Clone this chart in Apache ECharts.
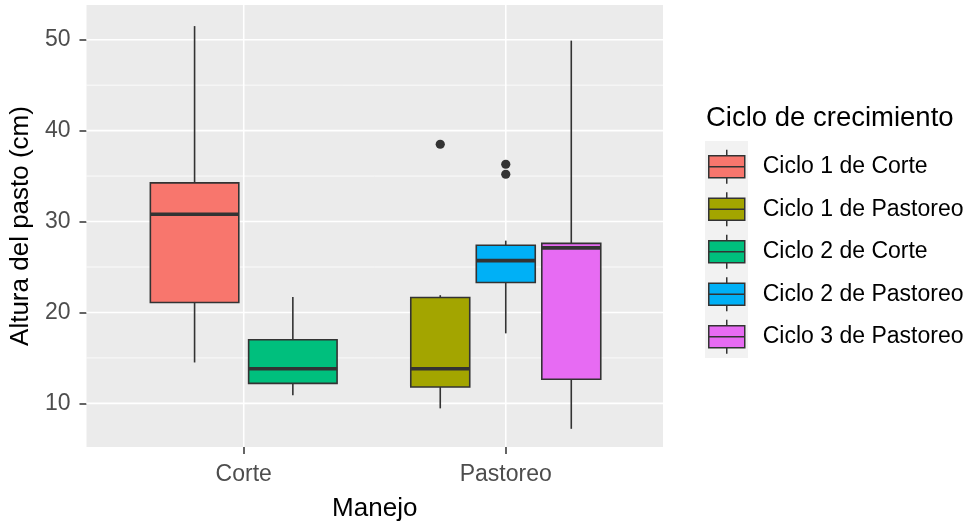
<!DOCTYPE html>
<html><head><meta charset="utf-8">
<script src="https://cdn.jsdelivr.net/npm/echarts@6/dist/echarts.min.js"></script>
<style>html,body{margin:0;padding:0;background:#fff}#c{width:967px;height:527px}</style>
</head><body><div id="c"></div>
<script>
// ---- data ----
const categories = ['Corte', 'Pastoreo'];
const seriesNames = ['Ciclo 1 de Corte', 'Ciclo 1 de Pastoreo', 'Ciclo 2 de Corte', 'Ciclo 2 de Pastoreo', 'Ciclo 3 de Pastoreo'];
const seriesCategory = [0, 1, 0, 1, 1];
// [lower whisker, Q1, median, Q3, upper whisker]
const boxStats = [
  [14.5, 21.1, 30.8, 34.25, 51.5],
  [9.45, 11.8, 13.8, 21.65, 21.9],
  [10.9, 12.2, 13.8, 17.0, 21.7],
  [17.7, 23.3, 25.7, 27.4, 27.9],
  [7.2, 12.65, 27.1, 27.6, 49.9]
];
const outliers = [[], [38.5], [], [36.3, 35.2], []];
const yTicks = [10, 20, 30, 40, 50];
const yMinor = [15, 25, 35, 45];
const xTicks = [1, 2];
const yRange = [5.2, 53.82];
const xRange = [0.4, 2.6];

// ---- styles ----
const colors = ['#F8766D', '#A3A500', '#00BF7D', '#00B0F6', '#E76BF3'];
const FONT = '"Liberation Sans", Arial, sans-serif';
const INK = '#333333';
const LW = 1.6;

// dodge layout (like ggplot dodge2, width 0.75, padding 0.1)
function slot(si) {
  const cat = seriesCategory[si];
  const members = [];
  seriesCategory.forEach((c, i) => { if (c === cat) members.push(i); });
  const n = members.length, k = members.indexOf(si);
  const w = 0.75 / n;
  return { offset: (k - (n - 1) / 2) * w, half: w * 0.9 / 2 };
}

function line(p1, p2, w, color) {
  return { type: 'line', shape: { x1: p1[0], y1: p1[1], x2: p2[0], y2: p2[1] },
           style: { stroke: color || INK, lineWidth: w } };
}

const series = [];
// grid lines
series.push({
  type: 'custom', name: 'gridMinor', z: 1, silent: true,
  data: yMinor.map(v => [v]), encode: { y: 0 },
  renderItem: (p, api) => line(api.coord([xRange[0], api.value(0)]), api.coord([xRange[1], api.value(0)]), 0.8, '#FFFFFF')
});
series.push({
  type: 'custom', name: 'gridMajorY', z: 1, silent: true,
  data: yTicks.map(v => [v]), encode: { y: 0 },
  renderItem: (p, api) => line(api.coord([xRange[0], api.value(0)]), api.coord([xRange[1], api.value(0)]), 1.6, '#FFFFFF')
});
series.push({
  type: 'custom', name: 'gridMajorX', z: 1, silent: true,
  data: xTicks.map(v => [v]), encode: { x: 0 },
  renderItem: (p, api) => line(api.coord([api.value(0), yRange[0]]), api.coord([api.value(0), yRange[1]]), 1.6, '#FFFFFF')
});

// boxes
seriesNames.forEach((name, si) => {
  series.push({
    type: 'custom', name: name, z: 2,
    itemStyle: { color: colors[si], borderColor: INK, borderWidth: LW },
    data: [[seriesCategory[si] + 1].concat(boxStats[si])],
    encode: { x: 0, y: [1, 2, 3, 4, 5] },
    renderItem: (params, api) => {
      const s = slot(si);
      const x = api.value(0) + s.offset;
      const lo = api.value(1), q1 = api.value(2), med = api.value(3), q3 = api.value(4), hi = api.value(5);
      const tl = api.coord([x - s.half, q3]), br = api.coord([x + s.half, q1]);
      const ml = api.coord([x - s.half, med]), mr = api.coord([x + s.half, med]);
      return {
        type: 'group',
        children: [
          line(api.coord([x, hi]), api.coord([x, q3]), LW),
          line(api.coord([x, q1]), api.coord([x, lo]), LW),
          { type: 'rect', shape: { x: tl[0], y: tl[1], width: br[0] - tl[0], height: br[1] - tl[1] },
            style: { fill: colors[si], stroke: INK, lineWidth: LW } },
          line(ml, mr, 3.6)
        ]
      };
    }
  });
});

// outliers
const outlierData = [];
outliers.forEach((arr, si) => arr.forEach(v => outlierData.push([seriesCategory[si] + 1, v, si])));
series.push({
  type: 'custom', name: 'outliers', z: 3,
  data: outlierData, encode: { x: 0, y: 1 },
  renderItem: (params, api) => {
    const s = slot(api.value(2));
    const c = api.coord([api.value(0) + s.offset, api.value(1)]);
    return { type: 'circle', shape: { cx: c[0], cy: c[1], r: 4.6 }, style: { fill: INK } };
  }
});

const chart = echarts.init(document.getElementById('c'), null, { renderer: 'canvas' });
chart.setOption({
  animation: false,
  textStyle: { fontFamily: FONT },
  grid: { left: 82.5, right: 304, top: 5, bottom: 76.5, show: true, backgroundColor: '#EBEBEB', borderWidth: 0, containLabel: false },
  title: { text: 'Ciclo de crecimiento', left: 706, top: 104, padding: 0,
           textStyle: { fontSize: 27.5, fontWeight: 'normal', color: '#000', fontFamily: FONT } },
  legend: {
    data: seriesNames, orient: 'vertical', left: 708, top: 149, padding: 0,
    itemWidth: 36, itemHeight: 34, itemGap: 7, selectedMode: false,
    icon: 'path://M0,6L36,6L36,28L0,28Z M18,0L18,6 M18,28L18,34 M0,17L36,17',
    itemStyle: { borderColor: INK, borderWidth: 1.5 },
    textStyle: { fontSize: 23, color: '#000', fontFamily: FONT, padding: [0, 0, 0, 13] }
  },
  graphic: [{ type: 'rect', left: 705, top: 141, z: 0, shape: { width: 43, height: 217 }, style: { fill: '#F2F2F2' } }],
  xAxis: {
    type: 'value', min: xRange[0], max: xRange[1],
    name: 'Manejo', nameLocation: 'middle', nameGap: 49,
    nameTextStyle: { fontSize: 26, color: '#000', fontFamily: FONT },
    axisLine: { show: false }, splitLine: { show: false },
    axisTick: { show: true, length: 7, customValues: xTicks, lineStyle: { color: INK, width: 1.5 } },
    axisLabel: { customValues: xTicks, margin: 16, fontSize: 23, color: '#4D4D4D', fontFamily: FONT,
                 formatter: v => categories[Math.round(v) - 1] || '' }
  },
  yAxis: {
    type: 'value', min: yRange[0], max: yRange[1],
    name: 'Altura del pasto (cm)', nameLocation: 'middle', nameGap: 45, nameRotate: 90,
    nameTextStyle: { fontSize: 26, color: '#000', fontFamily: FONT },
    axisLine: { show: false }, splitLine: { show: false },
    axisTick: { show: true, length: 7, customValues: yTicks, lineStyle: { color: INK, width: 1.5 } },
    axisLabel: { customValues: yTicks, margin: 16, fontSize: 23, color: '#4D4D4D', fontFamily: FONT }
  },
  series: series
});
</script>
</body></html>
